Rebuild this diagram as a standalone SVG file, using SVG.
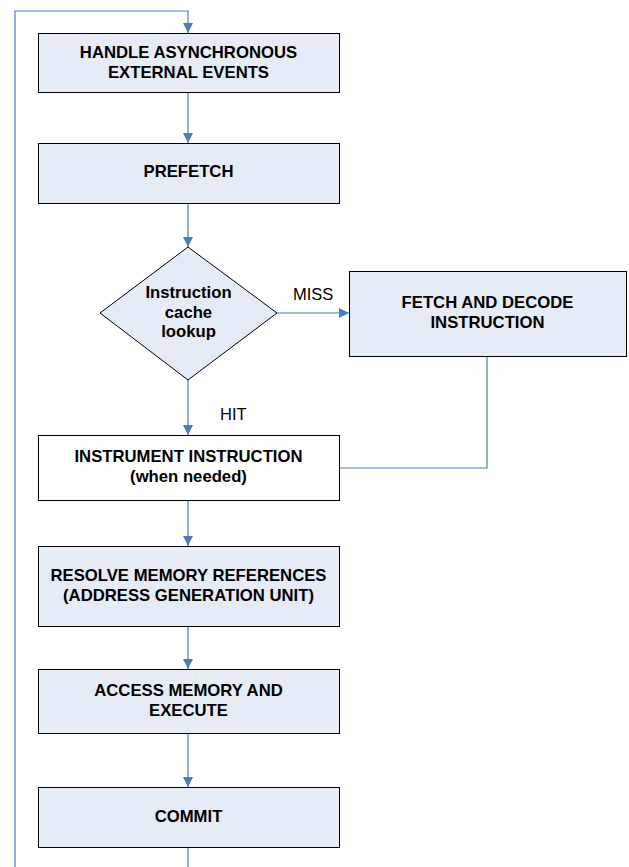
<svg xmlns="http://www.w3.org/2000/svg" width="629" height="867" viewBox="0 0 629 867">
<style>
.box{fill:#e6ecf6;stroke:#000;stroke-width:1}
.wbox{fill:#fff;stroke:#000;stroke-width:1}
.t{font-family:"Liberation Sans",Arial,sans-serif;font-weight:bold;font-size:16.7px;fill:#000;text-anchor:middle}
.l{font-family:"Liberation Sans",Arial,sans-serif;font-size:16.5px;fill:#000}
.c{fill:none;stroke:#4a7ebb;stroke-width:1.2}
</style>
<defs>
<marker id="ah" viewBox="0 0 10 10" refX="10" refY="5" markerWidth="10" markerHeight="10" markerUnits="userSpaceOnUse" orient="auto">
<path d="M0,0 L10,5 L0,10 Z" fill="#4a7ebb"/>
</marker>
</defs>
<rect width="629" height="867" fill="#fff"/>
<g id="connectors">
<path class="c" d="M15,867 V11 H188 V33" marker-end="url(#ah)"/>
<path class="c" d="M188,92 V143" marker-end="url(#ah)"/>
<path class="c" d="M188,203 V247" marker-end="url(#ah)"/>
<path class="c" d="M188,380 V435" marker-end="url(#ah)"/>
<path class="c" d="M277,313 H349" marker-end="url(#ah)"/>
<path class="c" d="M487,356 V468 H339"/>
<path class="c" d="M188,500 V546" marker-end="url(#ah)"/>
<path class="c" d="M188,626 V669" marker-end="url(#ah)"/>
<path class="c" d="M188,733 V787" marker-end="url(#ah)"/>
<path class="c" d="M188,847 V867"/>
<text class="l" x="293" y="300">MISS</text>
<text class="l" x="220" y="420">HIT</text>
</g>
<g id="handle">
<rect class="box" x="38.5" y="33.5" width="301" height="59"/>
<text class="t" x="188.5" y="58">HANDLE ASYNCHRONOUS</text>
<text class="t" x="188.5" y="78">EXTERNAL EVENTS</text>
</g>
<g id="prefetch">
<rect class="box" x="38.5" y="143.5" width="301" height="60"/>
<text class="t" x="188.5" y="177">PREFETCH</text>
</g>
<g id="lookup">
<polygon class="box" points="188,247 277,313 188,380 100,313"/>
<text class="t" x="188.5" y="298">Instruction</text>
<text class="t" x="188.5" y="318">cache</text>
<text class="t" x="188.5" y="337">lookup</text>
</g>
<g id="fetch">
<rect class="box" x="349.5" y="271.5" width="277" height="85"/>
<text class="t" x="487.5" y="308">FETCH AND DECODE</text>
<text class="t" x="487.5" y="328">INSTRUCTION</text>
</g>
<g id="instrument">
<rect class="wbox" x="38.5" y="435.5" width="301" height="65"/>
<text class="t" x="188.5" y="462">INSTRUMENT INSTRUCTION</text>
<text class="t" x="188.5" y="482">(when needed)</text>
</g>
<g id="resolve">
<rect class="box" x="38.5" y="546.5" width="301" height="80"/>
<text class="t" x="188.5" y="581">RESOLVE MEMORY REFERENCES</text>
<text class="t" x="188.5" y="601">(ADDRESS GENERATION UNIT)</text>
</g>
<g id="access">
<rect class="box" x="38.5" y="669.5" width="301" height="64"/>
<text class="t" x="188.5" y="696">ACCESS MEMORY AND</text>
<text class="t" x="188.5" y="716">EXECUTE</text>
</g>
<g id="commit">
<rect class="box" x="38.5" y="787.5" width="301" height="60"/>
<text class="t" x="188.5" y="822">COMMIT</text>
</g>
</svg>
